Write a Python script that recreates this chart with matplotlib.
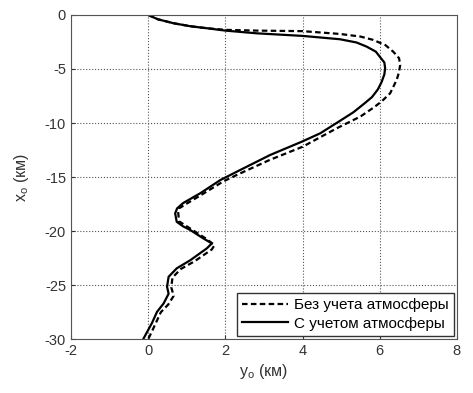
import matplotlib.pyplot as plt

plt.rcParams['font.family'] = ['Liberation Sans', 'DejaVu Sans']
plt.rcParams['axes.unicode_minus'] = False

# Кривая без учета атмосферы (пунктир)
y_free = [0.0, 0.25, 0.66, 1.1, 1.52, 2.0, 2.81, 4.0, 4.97, 5.5, 5.83, 6.15, 6.35, 6.5,
          6.53, 6.5, 6.44, 6.27, 6.05, 5.85, 5.5, 4.88, 4.0, 3.16, 2.3, 1.95, 1.4, 0.98,
          0.8, 0.78, 0.8, 1.15, 1.5, 1.72, 1.65, 1.2, 0.85, 0.63, 0.6, 0.66, 0.52, 0.33,
          0.2, 0.01]
x_free = [0.0, -0.4, -0.77, -1.05, -1.23, -1.38, -1.45, -1.5, -1.76, -2.0, -2.31, -2.8,
          -3.4, -4.0, -4.63, -5.3, -6.0, -7.25, -8.0, -8.55, -9.4, -10.5, -12.2, -13.4,
          -14.8, -15.4, -16.6, -17.5, -17.9, -18.3, -19.1, -19.9, -20.7, -21.3, -21.7,
          -22.8, -23.5, -24.3, -25.2, -26.0, -26.8, -27.5, -28.5, -29.95]

# Кривая с учетом атмосферы (сплошная)
y_atm = [0.0, 0.25, 0.66, 1.1, 1.52, 2.0, 2.81, 4.0, 4.97, 5.4, 5.66, 5.9, 6.0, 6.12,
         6.14, 6.12, 6.05, 5.95, 5.8, 5.6, 5.32, 4.97, 4.46, 3.98, 3.16, 2.3, 1.87, 1.35,
         0.91, 0.75, 0.70, 0.74, 0.9, 1.09, 1.43, 1.65, 1.52, 1.09, 0.74, 0.53, 0.49,
         0.53, 0.40, 0.23, 0.10, -0.12]
x_atm = [0.0, -0.4, -0.77, -1.05, -1.23, -1.45, -1.7, -1.94, -2.25, -2.55, -2.93, -3.4,
         -3.86, -4.4, -4.94, -5.5, -6.2, -6.9, -7.6, -8.2, -9.0, -9.8, -10.95, -11.73,
         -12.96, -14.5, -15.28, -16.5, -17.4, -17.9, -18.36, -19.14, -19.55, -19.9,
         -20.68, -21.14, -21.6, -22.7, -23.45, -24.23, -25.15, -25.8, -26.7, -27.47,
         -28.5, -29.95]

fig = plt.figure(figsize=(4.73, 3.93), dpi=100)
ax = fig.add_axes([0.150, 0.137, 0.816, 0.825])

ax.plot(y_free, x_free, color='k', ls=(0, (2.5, 1.5)), lw=1.6,
        solid_joinstyle='round', label='Без учета атмосферы')
ax.plot(y_atm, x_atm, color='k', ls='-', lw=1.6, solid_joinstyle='round',
        label='С учетом атмосферы')

ax.set_xlim(-2, 8)
ax.set_ylim(-30, 0)
ax.set_xticks([-2, 0, 2, 4, 6, 8])
ax.set_yticks([0, -5, -10, -15, -20, -25, -30])
ax.grid(True, linestyle=':', color='#555555', lw=0.8)
ax.tick_params(labelsize=10.5, direction='in', length=3, colors='#333333')
for s in ax.spines.values():
    s.set_color('#555555')

ax.set_xlabel('y$_\\mathregular{o}$ (км)', fontsize=11.5, color='#333333', labelpad=3)
ax.set_ylabel('x$_\\mathregular{o}$ (км)', fontsize=11.5, color='#333333', labelpad=10)

leg = ax.legend(loc='lower right', fontsize=11, handlelength=3.0, fancybox=False,
                framealpha=1, edgecolor='#333333', borderpad=0.35, handletextpad=0.4,
                borderaxespad=0.2, labelspacing=0.3)
leg.get_frame().set_linewidth(1.0)

fig.savefig('out.png', dpi=100)
